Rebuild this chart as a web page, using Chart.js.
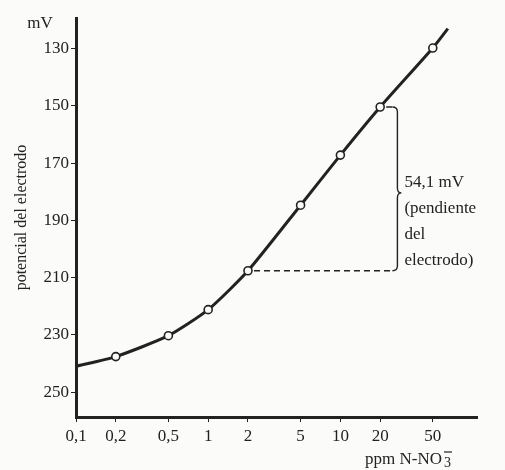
<!DOCTYPE html>
<html>
<head>
<meta charset="utf-8">
<script src="https://cdn.jsdelivr.net/npm/chart.js@4"></script>
<style>
  html, body { margin: 0; padding: 0; background: #fbfbf9; }
  #wrap { width: 505px; height: 470px; }
</style>
</head>
<body>
<div id="wrap"><canvas id="chart"></canvas></div>
<script>
// concentration (ppm N-NO3-) and electrode potential (mV)
const conc = [0.1, 0.2, 0.5, 1, 2, 5, 10, 20, 50, 65];
const potential = [241, 237.6, 230.3, 221.2, 207.6, 184.7, 167.2, 150.4, 129.8, 123];
const markers = [0, 1, 1, 1, 1, 1, 1, 1, 1, 0];

const xTicks = [0.1, 0.2, 0.5, 1, 2, 5, 10, 20, 50];
const yTicks = [130, 150, 170, 190, 210, 230, 250];

// slope bracket between the 2 ppm and 20 ppm points
const slopeFrom = 4;
const slopeTo = 7;
const braceX = 27;
const slopeText = ['54,1 mV', '(pendiente', 'del', 'electrodo)'];

const INK = '#222';
const SERIF = '"Liberation Serif", "DejaVu Serif", serif';

const extras = {
	id: 'extras',
	afterDraw(chart) {
		const { ctx, scales: { x, y }, chartArea } = chart;
		ctx.save();
		ctx.fillStyle = INK;
		ctx.strokeStyle = INK;

		// unit on top of y axis
		ctx.font = '17px ' + SERIF;
		ctx.textAlign = 'center';
		ctx.textBaseline = 'alphabetic';
		ctx.fillText('mV', 40, 28);

		// x axis label with subscript 3 and bar
		ctx.textAlign = 'left';
		const lx = chartArea.right - 112;
		const ly = chart.height - 6;
		ctx.fillText('ppm N-NO', lx, ly);
		const w = ctx.measureText('ppm N-NO').width;
		ctx.font = '14px ' + SERIF;
		ctx.fillText('3', lx + w + 2, ly + 3);
		ctx.lineWidth = 1.2;
		ctx.beginPath();
		ctx.moveTo(lx + w + 2, ly - 12);
		ctx.lineTo(lx + w + 10, ly - 12);
		ctx.stroke();

		// dashed leaders to the bracket
		const bx = x.getPixelForValue(braceX);
		const yTop = y.getPixelForValue(potential[slopeTo]);
		const yBot = y.getPixelForValue(potential[slopeFrom]);
		const xTop = x.getPixelForValue(conc[slopeTo]);
		const xBot = x.getPixelForValue(conc[slopeFrom]);
		ctx.lineWidth = 1.4;
		ctx.setLineDash([6, 4]);
		ctx.beginPath();
		ctx.moveTo(xTop + 6, yTop);
		ctx.lineTo(bx - 5, yTop);
		ctx.moveTo(xBot + 6, yBot);
		ctx.lineTo(bx - 5, yBot);
		ctx.stroke();
		ctx.setLineDash([]);

		// curly bracket
		const mid = (yTop + yBot) / 2 + 4;
		ctx.beginPath();
		ctx.moveTo(bx - 5, yTop);
		ctx.quadraticCurveTo(bx, yTop, bx, yTop + 5);
		ctx.lineTo(bx, mid - 5);
		ctx.quadraticCurveTo(bx, mid, bx + 4, mid);
		ctx.quadraticCurveTo(bx, mid, bx, mid + 5);
		ctx.lineTo(bx, yBot - 5);
		ctx.quadraticCurveTo(bx, yBot, bx - 5, yBot);
		ctx.stroke();

		ctx.font = '17px ' + SERIF;
		ctx.textAlign = 'left';
		const tx = bx + 7;
		slopeText.forEach((t, i) => ctx.fillText(t, tx, mid - 6 + i * 26));

		ctx.restore();
	}
};

new Chart(document.getElementById('chart'), {
	type: 'line',
	data: {
		datasets: [{
			data: conc.map((c, i) => ({ x: c, y: potential[i] })),
			borderColor: INK,
			borderWidth: 3,
			tension: 0.2,
			pointRadius: markers.map(m => m * 4),
			pointBackgroundColor: '#fbfbf9',
			pointBorderColor: INK,
			pointBorderWidth: 1.6,
			fill: false
		}]
	},
	options: {
		responsive: true,
		maintainAspectRatio: false,
		animation: false,
		layout: { padding: { top: 18, right: 28, left: 0, bottom: 0 } },
		plugins: { legend: { display: false }, tooltip: { enabled: false } },
		scales: {
			x: {
				type: 'logarithmic',
				min: 0.1,
				max: 108,
				afterBuildTicks: s => { s.ticks = xTicks.map(v => ({ value: v })); },
				afterFit: s => { s.height = 53; },
				border: { color: INK, width: 3 },
				grid: { drawOnChartArea: false, color: INK, tickLength: 5 },
				ticks: {
					color: INK,
					padding: 4,
					maxRotation: 0,
					autoSkip: false,
					font: { family: SERIF, size: 17 },
					callback: v => String(v).replace('.', ',')
				}
			},
			y: {
				reverse: true,
				min: 119.3,
				max: 258.7,
				afterBuildTicks: s => { s.ticks = yTicks.map(v => ({ value: v })); },
				afterFit: s => { s.width = 76; },
				border: { color: INK, width: 3 },
				grid: { drawOnChartArea: false, color: INK, tickLength: 5 },
				ticks: {
					color: INK,
					padding: 2,
					font: { family: SERIF, size: 17 }
				},
				title: {
					display: true,
					text: 'potencial del electrodo',
					color: INK,
					font: { family: SERIF, size: 16 },
					padding: { top: 12, bottom: 0 }
				}
			}
		}
	},
	plugins: [extras]
});
</script>
</body>
</html>
